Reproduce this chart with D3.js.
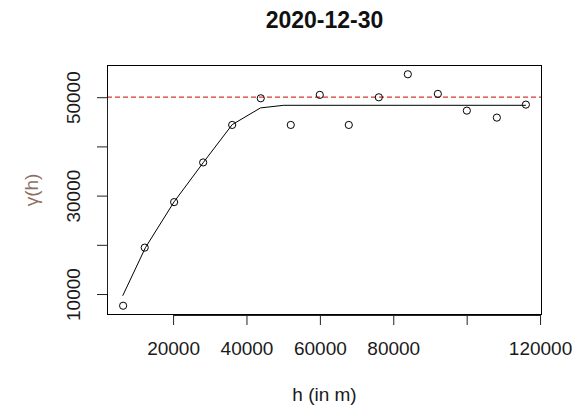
<!DOCTYPE html>
<html>
<head>
<meta charset="utf-8">
<script src="https://cdn.jsdelivr.net/npm/d3@7"></script>
<style>
  html, body { margin: 0; padding: 0; background: #fff; }
  svg { display: block; }
  text { font-family: "Liberation Sans", Arial, sans-serif; }
</style>
</head>
<body>
<script>
// Empirical semivariogram for one day: lag distance (m) and semivariance
const lagDist = [6380, 12270, 20280, 28190, 36100, 43890, 52070, 59980, 67880, 76060, 83970, 92150, 100050, 108230, 116140];
const gamma   = [7620, 19430, 28680, 36740, 44360, 49780, 44360, 50470, 44360, 49980, 54660, 50670, 47270, 45850, 48490];

// Fitted model curve vertices (distance, semivariance)
const modelDist  = [6270, 12460, 20280, 28190, 36100, 43810, 50160, 116140];
const modelGamma = [9650, 19430, 28740, 36680, 44420, 47820, 48350, 48350];

// Sample variance (horizontal reference)
const sillLevel = 50000;

// Axis ticks and their printed labels
const xTicks = [20000, 40000, 60000, 80000, 100000, 120000];
const xTickLabels = ["20000", "40000", "60000", "80000", "", "120000"];
const yTicks = [10000, 20000, 30000, 40000, 50000];
const yTickLabels = ["10000", "", "30000", "", "50000"];

const titleText = "2020-12-30";
const xLabel = "h (in m)";
const yLabel = "\u03b3(h)";

const W = 577, H = 411;
const margin = { top: 65, right: 35, bottom: 96, left: 107 };
const pw = W - margin.left - margin.right;
const ph = H - margin.top - margin.bottom;

const svg = d3.select("body").append("svg").attr("width", W).attr("height", H);

// 4% padding around the data range on both axes
function padded(vals) {
  const [lo, hi] = d3.extent(vals);
  const d = (hi - lo) * 0.04;
  return [lo - d, hi + d];
}

const x = d3.scaleLinear().domain(padded(lagDist)).range([margin.left, margin.left + pw]);
const y = d3.scaleLinear().domain(padded(gamma)).range([margin.top + ph, margin.top]);

// Sill reference line
svg.append("line")
  .attr("x1", margin.left).attr("x2", margin.left + pw)
  .attr("y1", y(sillLevel)).attr("y2", y(sillLevel))
  .attr("stroke", "#d83434").attr("stroke-width", 1.2)
  .attr("stroke-dasharray", "5,3");

// Model curve
const modelPts = modelDist.map((d, i) => [d, modelGamma[i]]);
svg.append("path")
  .datum(modelPts)
  .attr("fill", "none").attr("stroke", "#000").attr("stroke-width", 1)
  .attr("d", d3.line().x(d => x(d[0])).y(d => y(d[1])));

// Empirical points
svg.append("g").selectAll("circle")
  .data(lagDist.map((d, i) => [d, gamma[i]]))
  .join("circle")
  .attr("cx", d => x(d[0])).attr("cy", d => y(d[1]))
  .attr("r", 3.6)
  .attr("fill", "none").attr("stroke", "#000").attr("stroke-width", 1);

// Plot box
svg.append("rect")
  .attr("x", margin.left + 0.5).attr("y", margin.top + 0.5)
  .attr("width", pw - 1).attr("height", ph - 1)
  .attr("fill", "none").attr("stroke", "#000").attr("stroke-width", 1);

// X axis
const xAxis = d3.axisBottom(x)
  .tickValues(xTicks)
  .tickSize(10)
  .tickFormat((d, i) => xTickLabels[i]);
const gx = svg.append("g")
  .attr("transform", `translate(0,${margin.top + ph})`)
  .call(xAxis);
gx.select(".domain").attr("stroke", "#222")
  .attr("d", `M${x(xTicks[0])},0.5H${x(xTicks[xTicks.length - 1])}`);
gx.selectAll(".tick line").attr("stroke", "#222");
gx.selectAll(".tick text")
  .attr("y", 40).attr("dy", null)
  .attr("font-size", 19).attr("fill", "#1a1a1a")
  .attr("font-family", "'Liberation Sans', Arial, sans-serif");

// Y axis
const yAxis = d3.axisLeft(y)
  .tickValues(yTicks)
  .tickSize(10)
  .tickFormat((d, i) => yTickLabels[i]);
const gy = svg.append("g")
  .attr("transform", `translate(${margin.left},0)`)
  .call(yAxis);
gy.select(".domain").attr("stroke", "#222")
  .attr("d", `M0.5,${y(yTicks[0])}V${y(yTicks[yTicks.length - 1])}`);
gy.selectAll(".tick line").attr("stroke", "#222");
gy.selectAll(".tick text")
  .attr("x", null).attr("dy", null)
  .attr("text-anchor", "middle")
  .attr("transform", "translate(-27,0) rotate(-90)")
  .attr("font-size", 19).attr("fill", "#1a1a1a")
  .attr("font-family", "'Liberation Sans', Arial, sans-serif");

// Title
svg.append("text")
  .attr("x", margin.left + pw / 2).attr("y", 28)
  .attr("text-anchor", "middle")
  .attr("font-size", 23).attr("font-weight", "bold").attr("fill", "#111")
  .text(titleText);

// Axis titles
svg.append("text")
  .attr("x", margin.left + pw / 2).attr("y", 401)
  .attr("text-anchor", "middle")
  .attr("font-size", 19).attr("fill", "#1a1a1a")
  .text(xLabel);

svg.append("text")
  .attr("transform", `translate(38,${margin.top + ph / 2}) rotate(-90)`)
  .attr("text-anchor", "middle")
  .attr("font-size", 19).attr("fill", "#8f6f5f")
  .text(yLabel);
</script>
</body>
</html>
